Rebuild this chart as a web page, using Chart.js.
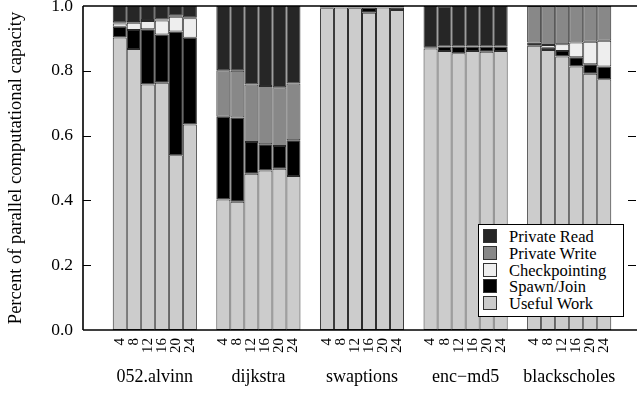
<!DOCTYPE html>
<html>
<head>
<meta charset="utf-8">
<script src="https://cdn.jsdelivr.net/npm/chart.js@4.4.1/dist/chart.umd.min.js"></script>
<style>
    body { margin: 0; background: #fff; }
    #wrap { position: relative; width: 637px; height: 393px; }
    #legend {
        position: absolute; left: 478px; top: 224px; width: 146px; height: 93px;
        background: #fff; border: 1px solid #000;
        font-family: "Liberation Serif", "DejaVu Serif", serif; font-size: 16.5px; color: #000;
        box-sizing: border-box; padding: 4px 0 0 4px;
    }
    #legend .row { height: 16.8px; line-height: 16.8px; white-space: nowrap; }
    #legend .sw {
        display: inline-block; width: 12px; height: 12px; border: 1px solid #333;
        vertical-align: -1px; margin-right: 12px;
    }
</style>
</head>
<body>
<div id="wrap">
    <canvas id="chart" width="637" height="393"></canvas>
    <div id="legend"></div>
</div>
<script>
// benchmarks and thread counts
const benchmarks = ['052.alvinn', 'dijkstra', 'swaptions', 'enc\u2212md5', 'blackscholes'];
const threads = ['4', '8', '12', '16', '20', '24'];
const yTicks = [0, 0.2, 0.4, 0.6, 0.8, 1.0];

// one row per benchmark, one value per thread count
const usefulWork = [
    [0.903, 0.867, 0.758, 0.763, 0.539, 0.634],
    [0.403, 0.396, 0.482, 0.492, 0.498, 0.475],
    [0.993, 0.995, 0.993, 0.979, 0.995, 0.988],
    [0.869, 0.861, 0.854, 0.861, 0.859, 0.861],
    [0.877, 0.864, 0.844, 0.813, 0.791, 0.774]
];
const spawnJoin = [
    [0.033, 0.059, 0.170, 0.149, 0.382, 0.268],
    [0.255, 0.260, 0.098, 0.081, 0.070, 0.111],
    [0.002, 0.001, 0.002, 0.016, 0.001, 0.007],
    [0.002, 0.014, 0.021, 0.014, 0.016, 0.014],
    [0.010, 0.007, 0.017, 0.029, 0.029, 0.039]
];
const checkpointing = [
    [0.010, 0.022, 0.026, 0.043, 0.046, 0.060],
    [0, 0, 0, 0, 0, 0],
    [0, 0, 0, 0, 0, 0],
    [0, 0, 0, 0, 0, 0],
    [0, 0.009, 0.021, 0.045, 0.070, 0.080]
];
const privateWrite = [
    [0.004, 0.003, 0.003, 0.003, 0.003, 0.003],
    [0.144, 0.144, 0.178, 0.180, 0.181, 0.175],
    [0, 0, 0, 0, 0, 0],
    [0, 0, 0, 0, 0, 0],
    [0.113, 0.120, 0.118, 0.113, 0.110, 0.107]
];
const privateRead = [
    [0.050, 0.049, 0.043, 0.042, 0.030, 0.035],
    [0.198, 0.200, 0.242, 0.247, 0.251, 0.239],
    [0.005, 0.004, 0.005, 0.005, 0.004, 0.005],
    [0.129, 0.124, 0.125, 0.125, 0.125, 0.125],
    [0, 0, 0, 0, 0, 0]
];

// bottom to top
const components = [
    { label: 'Useful Work', data: usefulWork, color: '#cccccc' },
    { label: 'Spawn/Join', data: spawnJoin, color: '#000000' },
    { label: 'Checkpointing', data: checkpointing, color: '#eeeeee' },
    { label: 'Private Write', data: privateWrite, color: '#888888' },
    { label: 'Private Read', data: privateRead, color: '#262626' }
];

const FONT = '"Liberation Serif", "DejaVu Serif", serif';

const datasets = [];
threads.forEach((t, ti) => {
    components.forEach(c => {
        datasets.push({
            label: c.label,
            stack: 't' + t,
            data: benchmarks.map((b, bi) => c.data[bi][ti]),
            backgroundColor: c.color,
            borderColor: '#2b2b2b',
            borderWidth: 1,
            borderSkipped: false,
            categoryPercentage: 0.812,
            barPercentage: 1.0
        });
    });
});

// frame with inward ticks on both sides, plus rotated thread labels
const framePlugin = {
    id: 'frame',
    afterDraw(chart) {
        const ctx = chart.ctx;
        const y = chart.scales.y;
        const left = 83, right = 636, top = y.getPixelForValue(1), bottom = y.getPixelForValue(0);
        ctx.save();
        ctx.strokeStyle = '#000';
        ctx.lineWidth = 1.6;
        ctx.beginPath();
        ctx.moveTo(left, top); ctx.lineTo(right + 1, top);
        ctx.moveTo(left, bottom); ctx.lineTo(right + 1, bottom);
        ctx.moveTo(left, top); ctx.lineTo(left, bottom);
        ctx.stroke();
        ctx.lineWidth = 1;
        yTicks.slice(1, -1).forEach(v => {
            const py = Math.round(y.getPixelForValue(v)) + 0.5;
            ctx.beginPath();
            ctx.moveTo(left, py); ctx.lineTo(left + 8, py);
            ctx.moveTo(right, py); ctx.lineTo(right - 8, py);
            ctx.stroke();
        });

        ctx.fillStyle = '#000';
        ctx.font = '15px ' + FONT;
        ctx.textAlign = 'right';
        ctx.textBaseline = 'middle';
        threads.forEach((t, ti) => {
            const meta = chart.getDatasetMeta(ti * components.length);
            meta.data.forEach(bar => {
                ctx.save();
                ctx.translate(bar.x, bottom + 8);
                ctx.rotate(-Math.PI / 2);
                ctx.fillText(t, 0, 0);
                ctx.restore();
            });
        });
        ctx.restore();
    }
};

new Chart(document.getElementById('chart'), {
    type: 'bar',
    data: { labels: benchmarks, datasets: datasets },
    options: {
        responsive: false,
        animation: false,
        layout: { padding: { top: 6, right: 16, left: 0, bottom: 0 } },
        plugins: { legend: { display: false }, tooltip: { enabled: false } },
        scales: {
            x: {
                stacked: true,
                grid: { display: false, drawTicks: false },
                border: { display: false },
                ticks: { color: '#000', font: { family: FONT, size: 18 }, padding: 36, maxRotation: 0 },
                afterFit: (s) => { s.height = 63; s.paddingLeft = 0; s.paddingRight = 0; }
            },
            y: {
                stacked: true,
                min: 0,
                max: 1,
                grid: { display: false, drawTicks: false },
                border: { display: false },
                afterBuildTicks: (s) => { s.ticks = yTicks.map(v => ({ value: v })); },
                ticks: {
                    color: '#000', font: { family: FONT, size: 17.5 }, padding: 30,
                    callback: (v) => Number(v).toFixed(1)
                },
                title: {
                    display: true,
                    text: 'Percent of parallel computational capacity',
                    color: '#000',
                    font: { family: FONT, size: 18.5 },
                    padding: { top: 5, bottom: 0 }
                },
                afterFit: (s) => { s.width = 103; s.paddingTop = 0; s.paddingBottom = 0; }
            }
        }
    },
    plugins: [framePlugin]
});

// legend, top entry first
const legendEl = document.getElementById('legend');
components.slice().reverse().forEach(c => {
    const row = document.createElement('div');
    row.className = 'row';
    const sw = document.createElement('span');
    sw.className = 'sw';
    sw.style.background = c.color;
    row.appendChild(sw);
    row.appendChild(document.createTextNode(c.label));
    legendEl.appendChild(row);
});
</script>
</body>
</html>
